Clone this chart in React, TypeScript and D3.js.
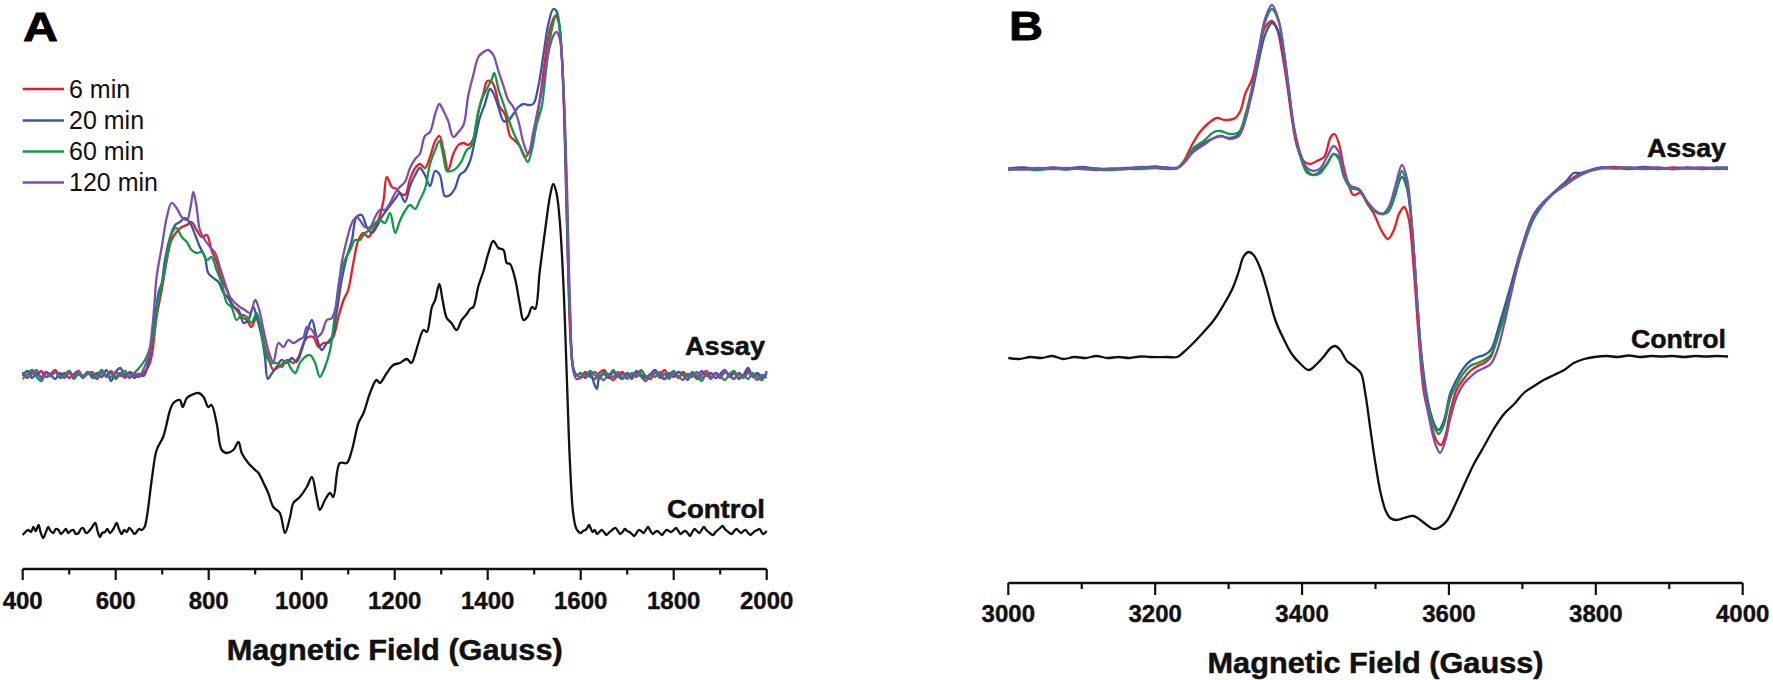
import React from 'react';
import * as d3 from 'd3';

type Pt = [number, number];

// ---------- legend / series meta ----------
const legendLabels = ['6 min', '20 min', '60 min', '120 min'];
const seriesColors = ['#ed1c24', '#3a54a4', '#109a45', '#7d4fac'];

// ---------- Panel A (field in Gauss, intensity in a.u.) ----------
const fieldDomainA: [number, number] = [400, 2000];
const intensityDomainA: [number, number] = [0, 560];

const assayA6: Pt[] = [
  [400,196],[410,191],[420,197],[430,193],[440,198],[450,192],[460,195],[470,199],[480,193],[490,196],[500,191],[510,195],[520,198],[530,192],[540,196],[550,194],[560,190],[570,197],[580,193],[590,198],[600,192],[610,196],[620,191],[630,197],[640,194],[650,192],[660,196],
  [670,202],[677,212],[688,252],[699,279],[710,309],[720,329],[731,337],[742,342],[753,344],[763,347],[774,339],[785,332],[796,334],[806,319],[817,307],[828,289],[839,279],[849,266],[860,259],[871,252],[882,249],[892,242],[903,252],[910,246],[921,222],[928,212],[939,199],[950,202],[961,206],[971,209],[982,206],[993,212],[1004,226],[1014,232],[1025,232],[1036,222],[1047,226],[1057,226],[1068,232],[1079,252],[1090,269],[1100,279],[1111,306],[1122,329],[1133,336],[1143,332],[1154,339],[1165,349],[1176,369],[1183,392],[1194,382],[1204,380],[1211,376],[1222,374],[1233,390],[1244,401],[1254,405],[1265,401],[1276,412],[1287,428],[1296,433],[1305,419],[1315,399],[1326,415],[1337,424],[1348,426],[1358,424],[1369,430],[1380,458],[1391,476],[1399,488],[1409,487],[1416,480],[1426,462],[1437,455],[1448,433],[1459,428],[1469,423],[1480,412],[1491,419],[1502,440],[1512,469],[1523,508],[1534,540],[1545,553],[1552,548],[1559,515],[1566,426],[1573,301],[1578,230],[1584,201],[1591,194],
  [1600,192],[1610,197],[1620,193],[1630,190],[1640,196],[1650,199],[1660,193],[1670,189],[1680,194],[1690,197],[1700,191],[1710,195],[1720,192],[1730,198],[1740,193],[1750,190],[1760,196],[1770,194],[1780,199],[1790,192],[1800,195],[1810,191],[1820,197],[1830,193],[1840,196],[1850,190],[1860,194],[1870,198],[1880,192],[1890,195],[1900,191],[1910,197],[1920,194],[1930,190],[1940,196],[1950,193],[1960,198],[1970,192],[1980,195],[1990,191],[2000,196],
];

const assayA20: Pt[] = [
  [400,193],[410,198],[420,191],[430,196],[440,192],[450,197],[460,194],[470,190],[480,196],[490,193],[500,198],[510,192],[520,195],[530,191],[540,197],[550,193],[560,196],[570,192],[580,199],[590,188],[600,197],[610,201],[620,193],[630,196],[640,191],[650,195],[660,193],
  [670,206],[681,239],[692,276],[699,286],[706,309],[717,332],[728,344],[738,347],[749,351],[760,346],[771,334],[781,322],[792,312],[799,296],[810,291],[821,287],[832,276],[842,271],[853,262],[864,259],[875,246],[885,249],[896,262],[903,252],[914,232],[921,212],[927,190],[935,195],[946,202],[957,209],[968,206],[979,211],[989,207],[1000,219],[1011,236],[1022,249],[1032,232],[1043,219],[1054,226],[1065,232],[1075,256],[1086,289],[1097,312],[1108,329],[1118,352],[1129,354],[1140,342],[1151,336],[1161,342],[1172,352],[1183,359],[1194,366],[1204,372],[1211,376],[1222,367],[1233,383],[1244,394],[1254,401],[1265,394],[1276,383],[1287,398],[1297,394],[1308,373],[1319,374],[1330,381],[1340,394],[1351,398],[1362,408],[1373,430],[1383,451],[1394,465],[1405,480],[1412,476],[1423,462],[1434,448],[1444,448],[1455,455],[1466,462],[1477,465],[1487,464],[1498,465],[1509,483],[1520,515],[1530,544],[1541,560],[1548,558],[1555,540],[1563,480],[1570,355],[1577,248],[1584,201],[1591,194],
  [1600,195],[1610,191],[1620,196],[1630,184],[1635,180],[1640,192],[1650,195],[1660,191],[1670,197],[1680,193],[1690,190],[1700,196],[1710,192],[1720,198],[1730,194],[1740,191],[1750,195],[1760,199],[1770,193],[1780,190],[1790,196],[1800,192],[1810,197],[1820,194],[1830,189],[1840,195],[1850,192],[1860,198],[1870,193],[1880,196],[1890,191],[1900,195],[1910,199],[1920,192],[1930,196],[1940,190],[1950,194],[1960,201],[1970,193],[1980,196],[1990,192],[2000,195],
];

const assayA60: Pt[] = [
  [400,190],[410,195],[420,199],[430,192],[440,188],[450,196],[460,193],[470,197],[480,191],[490,194],[500,198],[510,190],[520,195],[530,193],[540,197],[550,191],[560,194],[570,199],[580,192],[590,196],[600,190],[610,195],[620,198],[630,192],[640,196],
  [652,202],[663,209],[670,216],[681,232],[692,269],[703,292],[713,319],[724,339],[731,341],[742,332],[753,327],[763,319],[774,316],[785,317],[796,309],[806,312],[817,299],[828,286],[839,266],[849,262],[860,249],[871,254],[882,252],[892,246],[903,256],[914,236],[925,212],[935,206],[946,206],[957,202],[968,209],[975,202],[986,196],[996,206],[1007,212],[1018,214],[1029,206],[1039,192],[1050,202],[1061,219],[1072,256],[1082,292],[1093,309],[1104,319],[1115,329],[1125,329],[1136,336],[1147,339],[1158,346],[1168,349],[1179,346],[1190,356],[1201,336],[1211,348],[1222,358],[1233,364],[1244,360],[1254,369],[1265,380],[1276,405],[1287,419],[1296,428],[1305,412],[1312,398],[1322,398],[1333,401],[1344,408],[1355,419],[1365,423],[1376,448],[1387,469],[1398,480],[1409,490],[1414,496],[1423,480],[1434,465],[1444,451],[1455,437],[1466,426],[1477,415],[1486,407],[1495,419],[1505,444],[1516,462],[1527,505],[1538,540],[1548,555],[1555,540],[1563,480],[1570,373],[1577,255],[1584,201],[1591,194],
  [1600,196],[1610,192],[1620,198],[1630,194],[1640,190],[1650,197],[1660,193],[1670,199],[1680,192],[1690,195],[1700,190],[1710,196],[1720,193],[1730,199],[1740,191],[1750,195],[1760,192],[1770,197],[1780,190],[1790,194],[1800,198],[1810,192],[1820,195],[1830,190],[1840,197],[1850,193],[1860,188],[1870,195],[1880,191],[1890,196],[1900,193],[1910,189],[1920,195],[1930,198],[1940,191],[1950,194],[1960,190],[1970,196],[1980,192],[1990,189],[2000,198],
];

const assayA120: Pt[] = [
  [400,197],[410,192],[420,195],[430,199],[440,190],[450,196],[460,193],[470,197],[480,194],[490,191],[500,196],[510,193],[520,198],[530,192],[540,195],[550,197],[560,191],[570,196],[580,194],[590,192],[600,197],[610,193],[620,195],[630,191],[640,196],[650,193],
  [659,199],[670,212],[681,252],[688,292],[699,322],[710,352],[720,366],[731,361],[742,352],[753,349],[761,362],[767,377],[774,362],[781,339],[792,329],[803,322],[814,316],[824,302],[835,286],[846,272],[857,266],[867,262],[878,259],[889,256],[900,269],[907,262],[918,239],[928,219],[939,207],[950,226],[961,222],[971,229],[982,226],[993,229],[1004,232],[1011,242],[1022,239],[1032,232],[1043,236],[1054,249],[1065,251],[1075,266],[1086,306],[1097,329],[1108,346],[1118,352],[1125,349],[1136,342],[1147,342],[1158,352],[1168,359],[1179,359],[1190,366],[1201,376],[1211,382],[1222,387],[1233,401],[1244,410],[1254,415],[1265,433],[1276,437],[1287,455],[1296,465],[1305,458],[1315,448],[1326,432],[1337,437],[1348,444],[1358,473],[1369,494],[1380,512],[1391,517],[1401,519],[1412,514],[1423,498],[1434,483],[1444,469],[1455,462],[1466,448],[1477,426],[1487,415],[1498,437],[1509,462],[1520,487],[1530,515],[1541,533],[1548,537],[1555,530],[1563,480],[1570,390],[1577,265],[1584,198],[1591,190],
  [1600,191],[1610,195],[1620,192],[1630,197],[1640,193],[1650,189],[1660,195],[1670,192],[1680,197],[1690,191],[1700,194],[1710,190],[1720,196],[1730,192],[1740,188],[1750,194],[1760,197],[1770,191],[1780,195],[1790,190],[1800,196],[1810,193],[1820,189],[1830,195],[1840,192],[1850,197],[1860,191],[1870,194],[1880,190],[1890,196],[1900,192],[1910,198],[1920,193],[1930,190],[1940,195],[1950,191],[1960,196],[1970,193],[1980,189],[1990,194],[2000,191],
];

const controlA: Pt[] = [
  [400,34],[406,37],[412,39],[418,37],[423,42],[428,38],[434,44],[439,36],[444,31],[450,37],[455,42],[460,38],[466,36],[471,40],[477,39],[482,35],[487,37],[493,40],[498,36],[503,38],[509,39],[514,35],[520,36],[525,40],[530,41],[536,36],[541,37],[548,41],[556,46],[561,38],[566,32],[571,36],[577,37],[582,40],[588,36],[595,40],[602,46],[607,40],[613,35],[618,39],[624,37],[629,41],[634,39],[640,35],[645,37],[650,40],[656,39],[662,42],
  [667,52],[678,91],[688,119],[702,132],[717,159],[724,166],[738,169],[744,162],[753,171],[763,174],[778,176],[789,172],[799,162],[806,164],[817,146],[828,119],[839,116],[853,119],[864,127],[871,116],[885,106],[900,99],[907,96],[918,86],[928,76],[939,62],[953,56],[964,36],[975,52],[982,66],[996,72],[1011,82],[1022,92],[1032,72],[1039,59],[1050,69],[1061,76],[1068,72],[1082,106],[1097,106],[1108,119],[1122,146],[1133,156],[1147,176],[1161,189],[1168,186],[1183,196],[1197,204],[1211,206],[1226,210],[1236,206],[1244,215],[1251,226],[1262,239],[1269,237],[1280,262],[1287,269],[1296,285],[1303,269],[1312,251],[1322,246],[1333,239],[1344,249],[1355,255],[1362,260],[1369,262],[1380,283],[1391,298],[1401,315],[1412,328],[1423,321],[1434,319],[1441,306],[1448,305],[1459,290],[1469,265],[1477,249],[1487,253],[1495,262],[1502,260],[1512,298],[1523,337],[1534,373],[1541,385],[1548,376],[1555,348],[1563,283],[1570,194],[1577,105],[1584,55],[1591,40],
  [1600,36],[1605,38],[1610,39],[1614,41],[1618,44],[1622,40],[1626,37],[1630,39],[1635,35],[1640,37],[1645,39],[1650,37],[1655,34],[1660,36],[1665,38],[1670,40],[1675,41],[1680,38],[1685,35],[1690,37],[1695,40],[1700,38],[1705,37],[1710,35],[1715,33],[1720,36],[1725,39],[1730,38],[1735,36],[1740,39],[1745,42],[1750,38],[1755,35],[1760,37],[1765,38],[1770,36],[1775,34],[1780,37],[1785,39],[1790,38],[1795,37],[1800,39],[1805,41],[1810,38],[1815,35],[1820,37],[1825,38],[1830,36],[1835,33],[1840,37],[1845,40],[1850,38],[1855,36],[1860,39],[1865,42],[1870,39],[1875,37],[1880,35],[1885,34],[1890,37],[1895,39],[1900,41],[1905,43],[1910,40],[1915,38],[1920,36],[1925,35],[1930,38],[1935,40],[1940,38],[1945,36],[1950,38],[1955,39],[1960,36],[1965,34],[1970,36],[1975,38],[1980,39],[1985,40],[1992,35],[2000,38],
];

// ---------- Panel B ----------
const fieldDomainB: [number, number] = [3000, 4000];
const intensityDomainB: [number, number] = [0, 578];

const assayB6: Pt[] = [
  [3000,414],[3020,415],[3040,413.5],[3060,415],[3080,414],[3100,415.5],[3120,414],[3140,413.5],[3160,414.5],[3180,415],[3200,416],[3215,415],[3230,415],
  [3239,422],[3250,438],[3261,451],[3273,460],[3284,465],[3295,463],[3309,465],[3316,472],[3323,490],[3332,504],[3341,533],[3350,556],[3359,562],[3366,554],[3373,529],[3380,497],[3386,465],[3393,437],[3402,422],[3411,419],[3420,422],[3430,426],[3439,446],[3444,449],[3450,440],[3457,415],[3464,397],[3470,388],[3480,390],[3489,379],[3498,369],[3507,354],[3517,344],[3525,353],[3532,369],[3539,376],[3545,365],[3552,315],[3559,244],[3566,190],[3575,162],[3582,144],[3589,138],[3595,147],[3602,172],[3611,194],[3620,204],[3629,212],[3639,217],[3648,220],[3657,226],[3670,258],[3684,294],[3698,331],[3716,369],[3739,388],[3761,401],[3775,408],[3793,413],
  [3807,415],[3825,416],[3845,414.5],[3865,415.5],[3885,414],[3905,415.5],[3925,414.5],[3945,415],[3965,414],[3980,415],
];

const assayB20: Pt[] = [
  [3000,414.5],[3020,415.5],[3040,414],[3060,415.5],[3080,414.5],[3100,416],[3120,414.5],[3140,414],[3160,415],[3180,415.5],[3200,416.5],[3215,415.5],[3230,415.5],
  [3239,420],[3252,433],[3266,440],[3280,445],[3289,447],[3302,445],[3314,449],[3323,465],[3332,490],[3341,522],[3350,549],[3359,560],[3368,551],[3375,526],[3382,490],[3389,454],[3398,426],[3407,412],[3416,408],[3425,412],[3434,419],[3443,429],[3450,426],[3457,408],[3466,397],[3477,394],[3489,381],[3500,372],[3509,369],[3518,372],[3527,390],[3536,406],[3543,394],[3550,351],[3557,279],[3564,219],[3573,176],[3582,156],[3586,153],[3593,162],[3602,190],[3611,204],[3620,215],[3629,222],[3639,226],[3648,228],[3657,233],[3670,262],[3684,297],[3698,333],[3716,369],[3739,388],[3761,403],[3770,410],[3779,410],[3793,413],
  [3807,415.5],[3825,415],[3845,414],[3865,416],[3885,415],[3905,414.5],[3925,415.5],[3945,414],[3965,415],[3980,415.5],
];

const assayB60: Pt[] = [
  [3000,413],[3020,414],[3040,413],[3060,414.5],[3080,413.5],[3100,415],[3120,413.5],[3140,413],[3160,414],[3180,414],[3200,415],[3215,414],[3230,414.5],
  [3239,420],[3252,435],[3266,442],[3280,451],[3289,452],[3302,449],[3314,451],[3323,469],[3332,496],[3341,529],[3350,562],[3359,574],[3368,562],[3375,533],[3382,494],[3389,454],[3398,426],[3407,410],[3416,408],[3425,410],[3434,419],[3443,429],[3450,424],[3457,406],[3466,395],[3477,393],[3489,380],[3500,371],[3511,369],[3518,372],[3527,388],[3536,412],[3543,397],[3550,354],[3557,279],[3564,215],[3573,172],[3582,153],[3586,149],[3593,158],[3602,185],[3611,199],[3620,210],[3629,217],[3639,220],[3648,223],[3657,228],[3670,254],[3684,290],[3698,328],[3716,365],[3739,387],[3761,399],[3775,406],[3793,412],
  [3807,414.5],[3825,415],[3845,415.5],[3865,414],[3885,415],[3905,414],[3925,415],[3945,414.5],[3965,415.5],[3980,414.5],
];

const assayB120: Pt[] = [
  [3000,414],[3020,413.5],[3040,415],[3060,414],[3080,415],[3100,414],[3120,413],[3140,414.5],[3160,414],[3180,416],[3200,415.5],[3215,414.5],[3230,415],
  [3239,420],[3252,431],[3266,438],[3280,445],[3289,447],[3302,444],[3314,447],[3323,463],[3332,494],[3341,533],[3350,565],[3359,578],[3368,563],[3375,533],[3382,494],[3389,456],[3398,429],[3407,415],[3416,412],[3425,415],[3434,426],[3443,437],[3450,431],[3457,410],[3466,397],[3477,394],[3489,381],[3500,372],[3509,369],[3518,376],[3527,397],[3536,418],[3543,404],[3550,354],[3557,279],[3564,208],[3573,165],[3582,138],[3588,130],[3595,142],[3602,165],[3611,187],[3620,199],[3629,206],[3639,212],[3648,215],[3657,219],[3666,233],[3675,258],[3684,287],[3698,331],[3716,369],[3739,388],[3761,400],[3775,407],[3793,413],
  [3807,415],[3825,414.5],[3845,415.5],[3865,414.5],[3885,415.5],[3905,414],[3925,415],[3945,415.5],[3965,414.5],[3980,414],
];

const controlB: Pt[] = [
  [3000,225],[3015,224],[3030,226],[3045,225],[3060,227],[3075,224],[3090,226],[3105,225],[3120,227],[3135,225],[3150,226],[3165,225],[3180,226.5],[3193,226],[3216,226],[3230,226],
  [3239,231],[3252,240],[3266,251],[3280,263],[3293,278],[3305,294],[3314,312],[3320,326],[3327,331],[3334,328],[3343,315],[3352,294],[3364,262],[3375,244],[3386,229],[3398,219],[3409,213],[3420,219],[3429,226],[3439,235],[3445,237],[3452,233],[3461,222],[3470,217],[3480,210],[3486,190],[3493,154],[3500,119],[3507,90],[3514,72],[3520,65],[3529,63],[3539,65],[3552,67],[3561,63],[3570,58],[3579,54],[3588,56],[3598,63],[3607,76],[3620,97],[3634,119],[3648,137],[3661,154],[3675,169],[3689,179],[3702,190],[3716,197],[3729,203],[3743,208],[3757,213],[3770,220],[3784,224],
  [3798,226],[3815,227],[3830,226],[3845,227.5],[3860,226],[3875,227],[3890,226.5],[3905,227],[3920,226],[3935,227],[3950,226.5],[3965,227],[3980,226.5],
];

const assaySeriesA = [assayA6, assayA20, assayA60, assayA120];
const assaySeriesB = [assayB6, assayB20, assayB60, assayB120];

const FONT = "'Liberation Sans', Arial, Helvetica, sans-serif";

interface AxisProps {
  x: d3.ScaleLinear<number, number>;
  y0: number;
  majorLen: number;
  minorLen: number;
  labelY: number;
  titleY: number;
  step: number;
}

function BottomAxis({ x, y0, majorLen, minorLen, labelY, titleY, step }: AxisProps) {
  const [d0, d1] = x.domain();
  const ticks = d3.range(d0, d1 + 1, step / 2);
  const [r0, r1] = x.range();
  return (
    <g>
      <line x1={r0} x2={r1} y1={y0} y2={y0} stroke="#111" strokeWidth={2.4} />
      {ticks.map((t) => {
        const major = Math.round(t - d0) % step === 0;
        return (
          <line key={t} x1={x(t)} x2={x(t)} y1={y0} y2={y0 + (major ? majorLen : minorLen)} stroke="#111" strokeWidth={2.2} />
        );
      })}
      {ticks.filter((t) => Math.round(t - d0) % step === 0).map((t) => (
        <text key={'l' + t} x={x(t)} y={labelY} textAnchor="middle" fontFamily={FONT} fontWeight="bold" fontSize={24} fill="#111" stroke="#111" strokeWidth={0.4}>
          {t}
        </text>
      ))}
      <text x={(r0 + r1) / 2} y={titleY} textAnchor="middle" fontFamily={FONT} fontWeight="bold" fontSize={30} fill="#111" stroke="#111" strokeWidth={0.5} textLength={336} lengthAdjust="spacingAndGlyphs">
        Magnetic Field (Gauss)
      </text>
    </g>
  );
}

export default function App() {
  const xA = d3.scaleLinear().domain(fieldDomainA).range([22.7, 766.7]);
  const yA = d3.scaleLinear().domain(intensityDomainA).range([569, 9]);
  const xB = d3.scaleLinear().domain(fieldDomainB).range([1008.3, 1742.7]);
  const yB = d3.scaleLinear().domain(intensityDomainB).range([583, 5]);

  const lineA = d3.line<Pt>().x((d) => xA(d[0])).y((d) => yA(d[1])).curve(d3.curveCatmullRom.alpha(0.5));
  const lineB = d3.line<Pt>().x((d) => xB(d[0])).y((d) => yB(d[1])).curve(d3.curveCatmullRom.alpha(0.5));

  const legendY = [89, 120.5, 151.5, 182.5];

  return (
    <svg width={1773} height={680} viewBox="0 0 1773 680" style={{ position: 'absolute', left: 0, top: 0, background: '#fff' }}>
      <rect x={0} y={0} width={1773} height={680} fill="#fff" />
      {/* Panel A */}
      <text x={23} y={41} fontFamily={FONT} fontWeight="bold" fontSize={41} fill="#000" stroke="#000" strokeWidth={0.8} textLength={35} lengthAdjust="spacingAndGlyphs">A</text>
      <path d={lineA(controlA) || ''} fill="none" stroke="#111" strokeWidth={2.3} strokeLinejoin="round" />
      {assaySeriesA.map((s, i) => (
        <path key={i} d={lineA(s) || ''} fill="none" stroke={seriesColors[i]} strokeWidth={2.3} strokeLinejoin="round" />
      ))}
      {legendLabels.map((lab, i) => (
        <g key={lab}>
          <line x1={22.7} x2={64} y1={legendY[i]} y2={legendY[i]} stroke={seriesColors[i]} strokeWidth={2.3} />
          <text x={69} y={legendY[i] + 8.5} fontFamily={FONT} fontSize={25} fill="#111">{lab}</text>
        </g>
      ))}
      <text x={765} y={355} textAnchor="end" fontFamily={FONT} fontWeight="bold" fontSize={25} fill="#111" stroke="#111" strokeWidth={0.5} textLength={80} lengthAdjust="spacingAndGlyphs">Assay</text>
      <text x={765} y={518} textAnchor="end" fontFamily={FONT} fontWeight="bold" fontSize={25} fill="#111" stroke="#111" strokeWidth={0.5} textLength={98} lengthAdjust="spacingAndGlyphs">Control</text>
      <BottomAxis x={xA} y0={569} majorLen={11} minorLen={5.5} labelY={608.5} titleY={660} step={200} />

      {/* Panel B */}
      <text x={1009} y={40} fontFamily={FONT} fontWeight="bold" fontSize={41} fill="#000" stroke="#000" strokeWidth={0.8} textLength={34} lengthAdjust="spacingAndGlyphs">B</text>
      <path d={lineB(controlB) || ''} fill="none" stroke="#111" strokeWidth={2.3} strokeLinejoin="round" />
      {assaySeriesB.map((s, i) => (
        <path key={i} d={lineB(s) || ''} fill="none" stroke={seriesColors[i]} strokeWidth={2.3} strokeLinejoin="round" />
      ))}
      <text x={1726} y={157} textAnchor="end" fontFamily={FONT} fontWeight="bold" fontSize={25} fill="#111" stroke="#111" strokeWidth={0.5} textLength={79} lengthAdjust="spacingAndGlyphs">Assay</text>
      <text x={1726} y={348} textAnchor="end" fontFamily={FONT} fontWeight="bold" fontSize={25} fill="#111" stroke="#111" strokeWidth={0.5} textLength={95} lengthAdjust="spacingAndGlyphs">Control</text>
      <BottomAxis x={xB} y0={583} majorLen={12} minorLen={6} labelY={622} titleY={673} step={200} />
    </svg>
  );
}
